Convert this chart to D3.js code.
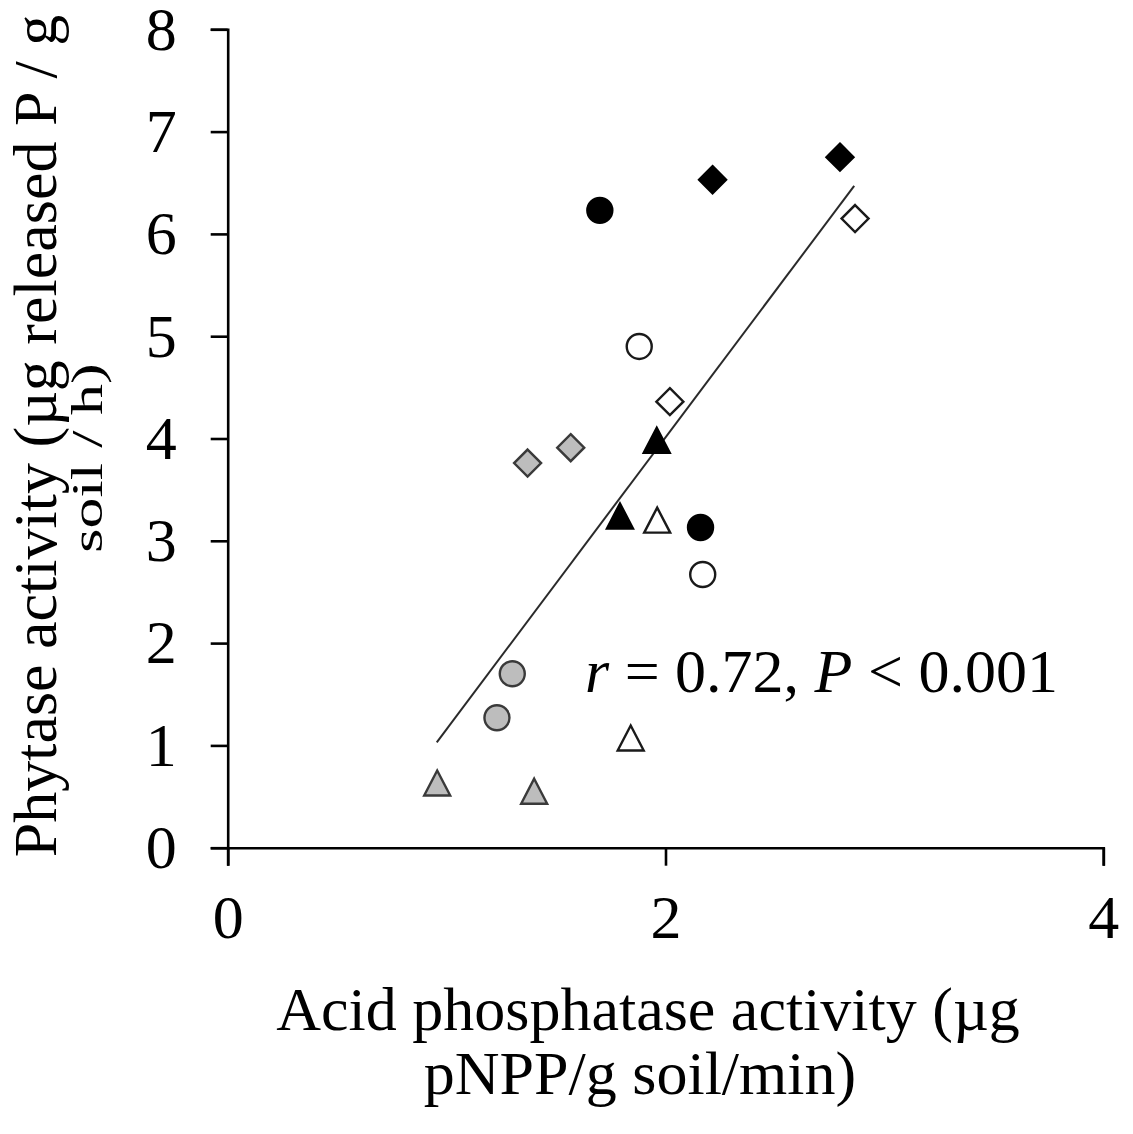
<!DOCTYPE html>
<html>
<head>
<meta charset="utf-8">
<script src="https://cdn.jsdelivr.net/npm/d3@7"></script>
<style>
  html, body { margin: 0; padding: 0; background: #fff; }
  svg { display: block; }
  text { font-family: "Liberation Serif", "Times New Roman", serif; fill: #000; }
</style>
</head>
<body>
<svg id="chart" width="1133" height="1134"></svg>
<script>
// ---- data ----
const xTicks = [0, 2, 4];
const yTicks = [0, 1, 2, 3, 4, 5, 6, 7, 8];

// each group: [acid phosphatase, phytase]
const blackCircles  = [[1.70, 6.23], [2.16, 3.13]];
const openCircles   = [[1.88, 4.90], [2.17, 2.67]];
const grayCircles   = [[1.30, 1.70], [1.23, 1.27]];
const blackDiamonds = [[2.215, 6.53], [2.797, 6.75]];
const openDiamonds  = [[2.866, 6.15], [2.02, 4.36]];
const grayDiamonds  = [[1.370, 3.76], [1.567, 3.91]];
const blackTriangles = [[1.960, 3.97], [1.792, 3.23]];
const openTriangles  = [[1.962, 3.19], [1.841, 1.06]];
const grayTriangles  = [[0.957, 0.62], [1.400, 0.54]];

// fitted regression line end points
const fitX = [0.955, 2.862];
const fitY = [1.03, 6.47];

// ---- layout ----
const svg = d3.select("#chart");
const x = d3.scaleLinear().domain([0, 4]).range([227.7, 1103.3]);
const y = d3.scaleLinear().domain([0, 8]).range([847.7, 29.3]);

const FONT = 62;

// axes
const yAxis = d3.axisLeft(y).tickValues(yTicks).tickSizeInner(17).tickSizeOuter(17).tickPadding(34).tickFormat(d3.format("d"));
const xAxis = d3.axisBottom(x).tickValues(xTicks).tickSizeInner(18).tickSizeOuter(18).tickPadding(28).tickFormat(d3.format("d"));

const gy = svg.append("g").attr("transform", `translate(${x(0)},0)`).call(yAxis);
const gx = svg.append("g").attr("transform", `translate(0,${y(0)})`).call(xAxis);
[gx, gy].forEach(g => {
  g.selectAll("path, line").attr("stroke", "#000").attr("stroke-width", 2.6);
  g.selectAll("text").attr("font-size", FONT).attr("font-family", '"Liberation Serif", serif').attr("fill", "#000");
});

// regression line
svg.append("line")
  .attr("x1", x(fitX[0])).attr("y1", y(fitY[0]))
  .attr("x2", x(fitX[1])).attr("y2", y(fitY[1]))
  .attr("stroke", "#2a2a2a").attr("stroke-width", 2);

// markers
const R = 12.5;        // circle radius
const D = 13.5;        // diamond half-diagonal
const TW = 13;         // triangle half-width
const TH = 25;         // triangle height

function circlePath(cx, cy) {
  return `M${cx - R},${cy}A${R},${R} 0 1,0 ${cx + R},${cy}A${R},${R} 0 1,0 ${cx - R},${cy}Z`;
}
function diamondPath(cx, cy) {
  return `M${cx},${cy - D}L${cx + D},${cy}L${cx},${cy + D}L${cx - D},${cy}Z`;
}
function trianglePath(cx, cy) {
  const top = cy - TH * 0.55, bot = cy + TH * 0.45;
  return `M${cx},${top}L${cx + TW},${bot}L${cx - TW},${bot}Z`;
}

const styles = {
  black: { fill: "#000", stroke: "#000" },
  open:  { fill: "#fff", stroke: "#1a1a1a" },
  gray:  { fill: "#bdbdbd", stroke: "#3a3a3a" }
};

const groups = [
  { data: blackCircles, shape: circlePath, style: "black" },
  { data: openCircles, shape: circlePath, style: "open" },
  { data: grayCircles, shape: circlePath, style: "gray" },
  { data: blackDiamonds, shape: diamondPath, style: "black" },
  { data: openDiamonds, shape: diamondPath, style: "open" },
  { data: grayDiamonds, shape: diamondPath, style: "gray" },
  { data: blackTriangles, shape: trianglePath, style: "black" },
  { data: openTriangles, shape: trianglePath, style: "open" },
  { data: grayTriangles, shape: trianglePath, style: "gray" }
];

groups.forEach(gr => {
  svg.append("g").selectAll("path")
    .data(gr.data)
    .join("path")
    .attr("d", d => gr.shape(x(d[0]), y(d[1])))
    .attr("fill", styles[gr.style].fill)
    .attr("stroke", styles[gr.style].stroke)
    .attr("stroke-width", 2.4)
    .attr("stroke-linejoin", "miter");
});

// annotation
const ann = svg.append("text")
  .attr("x", 585).attr("y", 692)
  .attr("font-size", FONT);
ann.append("tspan").attr("font-style", "italic").text("r");
ann.append("tspan").text(" = 0.72, ");
ann.append("tspan").attr("font-style", "italic").text("P");
ann.append("tspan").text(" < 0.001");

// axis titles
svg.append("text")
  .attr("x", 648).attr("y", 1030)
  .attr("text-anchor", "middle").attr("font-size", FONT)
  .text("Acid phosphatase activity (µg");
svg.append("text")
  .attr("x", 640).attr("y", 1094)
  .attr("text-anchor", "middle").attr("font-size", FONT)
  .text("pNPP/g soil/min)");

svg.append("text")
  .attr("transform", "translate(56,436) rotate(-90)")
  .attr("text-anchor", "middle").attr("font-size", FONT)
  .text("Phytase activity (µg released P / g");
svg.append("text")
  .attr("transform", "translate(102,458) rotate(-90) scale(1,0.7)")
  .attr("text-anchor", "middle").attr("font-size", FONT)
  .text("soil / h)");
</script>
</body>
</html>
